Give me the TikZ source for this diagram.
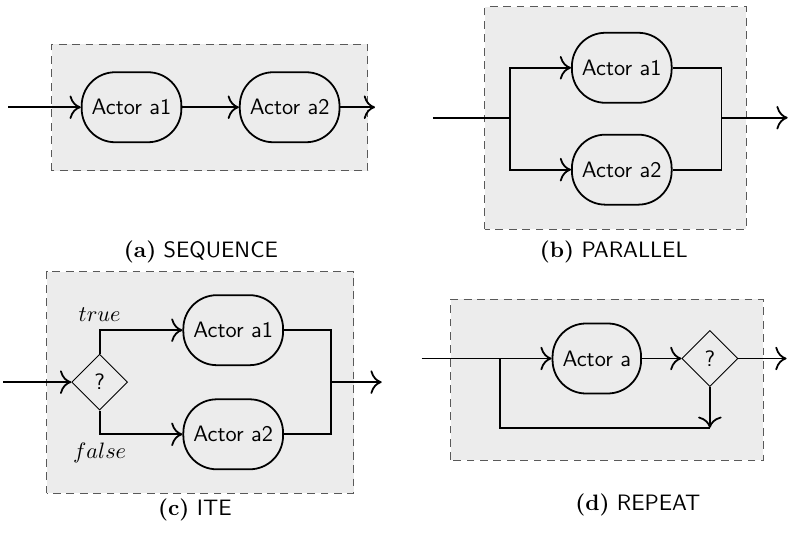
\documentclass[tikz,border=0pt]{standalone}
\usetikzlibrary{shapes.geometric, arrows, arrows.meta, positioning}

\begin{document}
\begin{tikzpicture}[x=1pt, y=1pt, node distance=25pt]
    \tikzstyle{actor} = [rectangle, rounded corners=15pt, minimum height=31.4pt, inner xsep=4.5pt, text centered, draw=black, thick, font=\sffamily]
    \tikzstyle{choice} = [diamond, minimum width=25.1pt, minimum height=25.1pt, inner sep=1pt, draw=black, font=\sffamily]
    \tikzstyle{group} = [draw=black!65, fill=gray!15, dash pattern=on 3.5pt off 2.5pt]
    \tikzstyle{arrow} = [thick,-{To[scale=1.5]}]
    \tikzstyle{wire} = [thick]

    \useasboundingbox (0,0) rectangle (353.9,239.1);

    % (a) sequence
    \draw [group] (23.2,162.5) rectangle (165.0,219.3);
    \node (seqA) [actor] at (59.0,191.0) {Actor a1};
    \node (seqB) [actor, right=25.4pt of seqA] {Actor a2};
    \coordinate (seqIn) at (3.6,191.0);
    \coordinate (seqOut) at (168.2,191.0);
    \draw [arrow] (seqIn) -- (seqA);
    \draw [arrow] (seqA) -- (seqB);
    \draw [arrow] (seqB) -- (seqOut);
    \node (seqCap) at (90.1,126.0) {\textbf{(a)} \textsf{SEQUENCE}};

    % (b) parallel
    \draw [group] (217.5,136.2) rectangle (334.8,236.0);
    \node (parA) [actor] at (278.9,208.7) {Actor a1};
    \node (parB) [actor, below=13.5pt of parA] {Actor a2};
    \coordinate (parIn) at (194.2,186.3);
    \coordinate (parSplit) at (228.7,186.3);
    \coordinate (parJoin) at (323.6,186.3);
    \coordinate (parOut) at (353.3,186.3);
    \draw [wire] (parIn) -- (parSplit);
    \draw [arrow] (parSplit) |- (parA);
    \draw [arrow] (parSplit) |- (parB);
    \draw [wire] (parA) -| (parJoin) |- (parB);
    \draw [arrow] (parJoin) -- (parOut);
    \node (parCap) at (275.3,126.0) {\textbf{(b)} \textsf{PARALLEL}};

    % (c) if-then-else
    \draw [group] (20.9,17.8) rectangle (158.7,117.2);
    \node (iteQ) [choice] at (44.7,67.7) {?};
    \node (iteA) [actor] at (104.6,91.0) {Actor a1};
    \node (iteB) [actor] at (104.6,44.3) {Actor a2};
    \coordinate (iteIn) at (1.5,67.7);
    \coordinate (iteJoin) at (148.4,67.7);
    \coordinate (iteOut) at (171.2,67.7);
    \draw [arrow] (iteIn) -- (iteQ);
    \draw [arrow] (iteQ.north) |- node (iteTrue) [above] {$true$} (iteA);
    \draw [arrow] (iteQ.south) |- node (iteFalse) [below] {$false$} (iteB);
    \draw [wire] (iteA) -| (iteJoin) |- (iteB);
    \draw [arrow] (iteJoin) -- (iteOut);
    \node (iteCap) at (87.4,10.6) {\textbf{(c)} \textsf{ITE}};

    % (d) repeat
    \draw [group] (202.2,32.7) rectangle (342.3,104.9);
    \node (repA) [actor] at (267.7,78.3) {Actor a};
    \node (repQ) [choice] at (318.4,78.3) {?};
    \coordinate (repIn) at (189.1,78.3);
    \coordinate (repSplit) at (224.2,78.3);
    \coordinate (repLoop) at (318.4,47.2);
    \coordinate (repOut) at (352.8,78.3);
    \draw [arrow] (repIn) -- (repA);
    \draw [arrow] (repA) -- (repQ);
    \draw [arrow] (repQ) -- (repOut);
    \draw [arrow] (repQ) -- (repLoop);
    \draw [wire] (repLoop) -| (repSplit);
    \node (repCap) at (286.1,12.6) {\textbf{(d)} \textsf{REPEAT}};
\end{tikzpicture}
\end{document}
